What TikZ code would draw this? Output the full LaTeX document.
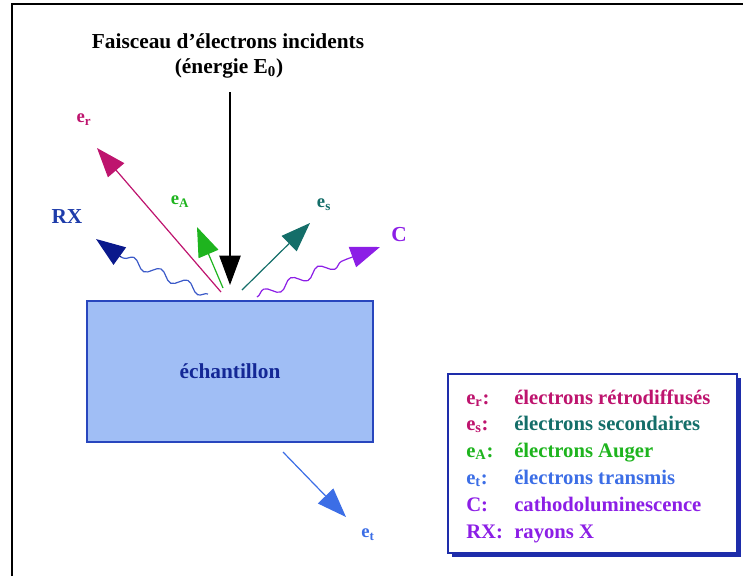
\documentclass[tikz,border=0pt]{standalone}
\usepackage{fontspec}
\setmainfont{Liberation Serif}
\usetikzlibrary{arrows.meta,decorations.pathmorphing}
\definecolor{mag}{RGB}{190,20,110}
\definecolor{tealc}{RGB}{20,110,105}
\definecolor{grn}{RGB}{30,180,30}
\definecolor{ltb}{RGB}{60,110,230}
\definecolor{pur}{RGB}{140,30,230}
\definecolor{rxb}{RGB}{30,60,170}
\definecolor{rxline}{RGB}{60,90,200}
\definecolor{rxhead}{RGB}{10,25,140}
\definecolor{boxf}{RGB}{160,190,245}
\definecolor{boxb}{RGB}{40,70,190}
\definecolor{samp}{RGB}{20,40,150}
\definecolor{legb}{RGB}{30,45,170}
\begin{document}
\begin{tikzpicture}[x=0.75pt,y=-0.75pt,
  big/.style={-{Triangle[length=22pt,width=16pt]}, line width=0.9pt},
  wavy/.style={decorate, decoration={snake, amplitude=3.5pt, segment length=22pt}, line width=0.9pt},
  lbl/.style={font=\fontsize{14}{16}\selectfont\bfseries, inner sep=0pt},
  bigtxt/.style={font=\fontsize{16}{19}\selectfont\bfseries, inner sep=0pt},
  leg/.style={font=\fontsize{15.5}{18}\selectfont\bfseries, anchor=base west, inner sep=0pt}]
\useasboundingbox (0,0) rectangle (743,576);
% frame
\draw[line width=2.2pt] (12,576) -- (12,4) -- (743,4);
% title
\node[bigtxt] (t1) at (228,41) {Faisceau d'électrons incidents};
\node[bigtxt] (t2) at (229,68) {(énergie E\textsubscript{0})};
% sample
\node[draw=boxb, fill=boxf, line width=1.2pt, minimum width=214.5pt, minimum height=105.75pt, bigtxt, text=samp] (sample) at (230,371.5) {échantillon};
% coordinates
\coordinate (inTop) at (230,92);
\coordinate (inTip) at (230,285);
\coordinate (rS) at (221,292); \coordinate (rT) at (97,148);
\coordinate (aS) at (223,288); \coordinate (aT) at (197,227);
\coordinate (xS) at (208,294); \coordinate (xM) at (121,257); \coordinate (xT) at (96,239);
\coordinate (sS) at (242,290); \coordinate (sT) at (310,223);
\coordinate (cS) at (257,297); \coordinate (cM) at (347,259); \coordinate (cT) at (380,247);
\coordinate (tS) at (283,452); \coordinate (tT) at (346,517);
% arrows
\draw[big, mag] (rS) -- (rT);
\draw[big, grn] (aS) -- (aT);
\draw[wavy, rxline] (xS) -- (xM);
\draw[big, rxhead] (xM) -- (xT);
\draw[big, tealc] (sS) -- (sT);
\draw[wavy, pur] (cS) -- (cM);
\draw[big, pur] (cM) -- (cT);
\draw[big, black] (inTop) -- (inTip);
\draw[big, ltb] (tS) -- (tT);
% labels
\node[lbl, text=mag] (lr) at (84,120) {e\textsubscript{r}};
\node[lbl, text=grn] (lA) at (180,202) {e\textsubscript{A}};
\node[lbl, text=tealc] (ls) at (324,205) {e\textsubscript{s}};
\node[lbl, text=ltb] (lt) at (368,535) {e\textsubscript{t}};
\node[bigtxt, text=rxb] (lRX) at (67,217) {RX};
\node[bigtxt, text=pur] (lC) at (399,235) {C};
% legend
\fill[legb] (452,378) rectangle (741,557);
\draw[legb, fill=white, line width=1pt] (448,374) rectangle (737,553);
\node[leg, text=mag] (k1) at (466,404) {e\textsubscript{r}:};
\node[leg, text=mag] (d1) at (514,404) {électrons rétrodiffusés};
\node[leg, text=mag] (k2) at (466,430) {e\textsubscript{s}:};
\node[leg, text=tealc] (d2) at (514,430) {électrons secondaires};
\node[leg, text=grn] (k3) at (466,457) {e\textsubscript{A}:};
\node[leg, text=grn] (d3) at (514,457) {électrons Auger};
\node[leg, text=ltb] (k4) at (466,484) {e\textsubscript{t}:};
\node[leg, text=ltb] (d4) at (514,484) {électrons transmis};
\node[leg, text=pur] (k5) at (466,511) {C:};
\node[leg, text=pur] (d5) at (514,511) {cathodoluminescence};
\node[leg, text=pur] (k6) at (466,538) {RX:};
\node[leg, text=pur] (d6) at (514,538) {rayons X};
\end{tikzpicture}
\end{document}
